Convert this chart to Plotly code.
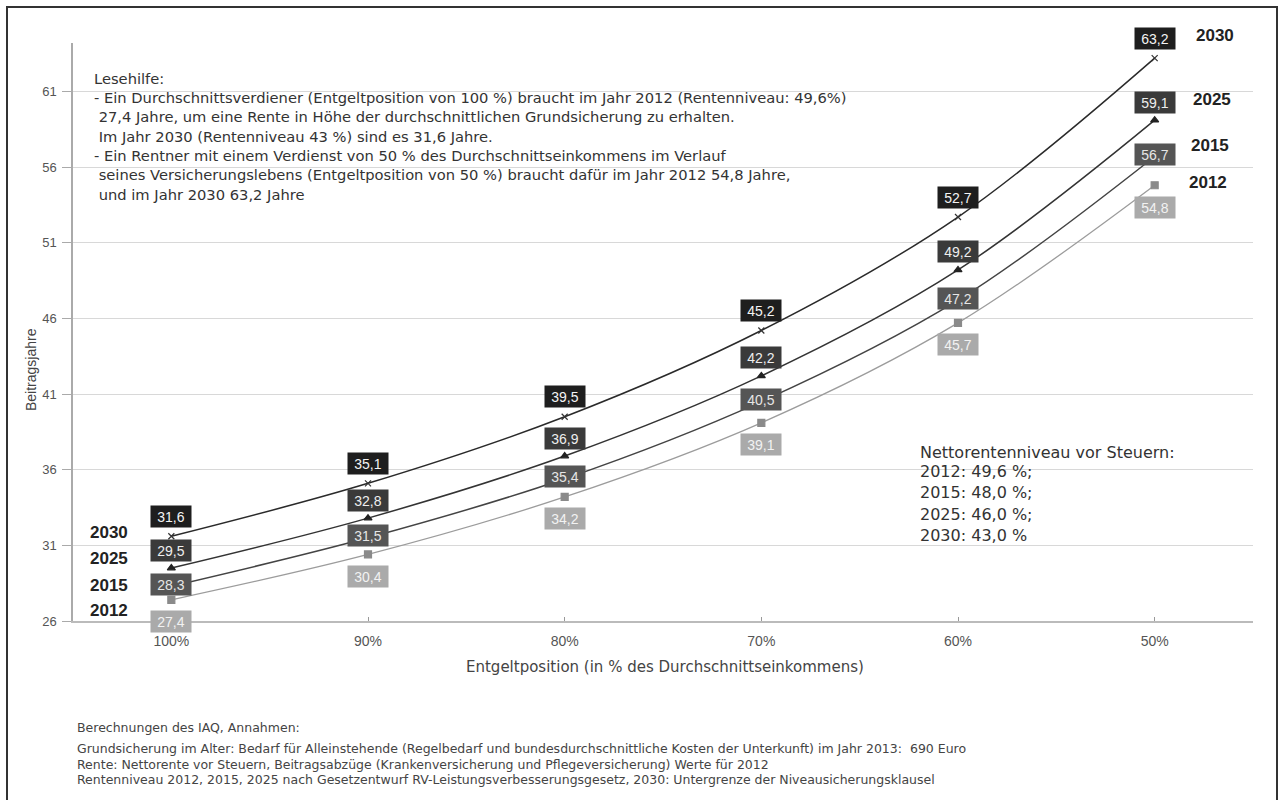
import plotly.graph_objects as go

# ---------------- data ----------------
categories = ["100%", "90%", "80%", "70%", "60%", "50%"]
years = ["2012", "2015", "2025", "2030"]
v2012 = [27.4, 30.4, 34.2, 39.1, 45.7, 54.8]
v2015 = [28.3, 31.5, 35.4, 40.5, 47.2, 56.7]
v2025 = [29.5, 32.8, 36.9, 42.2, 49.2, 59.1]
v2030 = [31.6, 35.1, 39.5, 45.2, 52.7, 63.2]
y_ticks = [26, 31, 36, 41, 46, 51, 56, 61]

lesehilfe_lines = [
    "Lesehilfe:",
    "- Ein Durchschnittsverdiener (Entgeltposition von 100 %) braucht im Jahr 2012 (Rentenniveau: 49,6%)",
    "  27,4 Jahre, um eine Rente in Höhe der durchschnittlichen Grundsicherung zu erhalten.",
    "  Im Jahr 2030 (Rentenniveau 43 %) sind es 31,6 Jahre.",
    "- Ein Rentner mit einem Verdienst von 50 % des Durchschnittseinkommens im Verlauf",
    "  seines Versicherungslebens (Entgeltposition von 50 %) braucht dafür im Jahr 2012 54,8 Jahre,",
    "  und im Jahr 2030 63,2 Jahre",
]
niveau_lines = [
    "Nettorentenniveau vor Steuern:",
    "2012: 49,6 %;",
    "2015: 48,0 %;",
    "2025: 46,0 %;",
    "2030: 43,0 %",
]
footer_lines = [
    "Berechnungen des IAQ, Annahmen:",
    "Grundsicherung im Alter: Bedarf für Alleinstehende (Regelbedarf und bundesdurchschnittliche Kosten der Unterkunft) im Jahr 2013:  690 Euro",
    "Rente: Nettorente vor Steuern, Beitragsabzüge (Krankenversicherung und Pflegeversicherung) Werte für 2012",
    "Rentenniveau 2012, 2015, 2025 nach Gesetzentwurf RV-Leistungsverbesserungsgesetz, 2030: Untergrenze der Niveausicherungsklausel",
]
x_title = "Entgeltposition (in % des Durchschnittseinkommens)"
y_title = "Beitragsjahre"

# ---------------- layout geometry ----------------
W, H = 1282, 800
ML, MR, MT, MB = 73, 29, 43, 179
PW, PH = W - ML - MR, H - MT - MB


def px(x):
    return (x - ML) / PW


def py(y):
    return (H - MB - y) / PH


FONT = "Liberation Sans, Arial, sans-serif"
WIDE = "DejaVu Sans, Verdana, sans-serif"

series = {
    "2012": dict(vals=v2012, line="#9c9c9c", width=1.3, marker="square", msize=7, mcolor="#8a8a8a",
                 box="#aaaaaa", txt="#f2f2f2", shift=-22, rshift=(53, 3), lshift=(-62, -11)),
    "2015": dict(vals=v2015, line="#444444", width=1.5, marker="diamond", msize=6, mcolor="#444444",
                 box="#555555", txt="#e6e6e6", shift=2, rshift=(55, 11), lshift=(-62, 1)),
    "2025": dict(vals=v2025, line="#333333", width=1.5, marker="triangle-up", msize=7, mcolor="#222222",
                 box="#3a3a3a", txt="#eeeeee", shift=18, rshift=(57, 21), lshift=(-62, 10)),
    "2030": dict(vals=v2030, line="#2a2a2a", width=1.5, marker="x-thin", msize=6, mcolor="#333333",
                 box="#1e1e1e", txt="#f4f4f4", shift=20, rshift=(60, 23), lshift=(-62, 4)),
}

fig = go.Figure()
annotations = []

for yr in years:
    s = series[yr]
    fig.add_trace(go.Scatter(
        x=categories, y=s["vals"], mode="lines+markers", name=yr,
        line=dict(color=s["line"], width=s["width"], shape="spline", smoothing=1.0),
        marker=dict(symbol=s["marker"], size=s["msize"], color=s["mcolor"],
                    line=dict(color=s["mcolor"], width=1.2)),
        showlegend=False, hoverinfo="x+y",
    ))
    for c, v in zip(categories, s["vals"]):
        annotations.append(dict(
            x=c, y=v, xref="x", yref="y", text=f"{v:.1f}".replace(".", ","),
            showarrow=False, yshift=s["shift"], bgcolor=s["box"],
            font=dict(family=FONT, size=14, color=s["txt"]),
            width=38, height=19, borderpad=1, align="center", valign="middle",
        ))
    # series name labels at the right and left
    annotations.append(dict(
        x=categories[-1], y=s["vals"][-1], xref="x", yref="y", text=f"<b>{yr}</b>",
        showarrow=False, xshift=s["rshift"][0], yshift=s["rshift"][1],
        font=dict(family=FONT, size=17, color="#222222"),
    ))
    annotations.append(dict(
        x=categories[0], y=s["vals"][0], xref="x", yref="y", text=f"<b>{yr}</b>",
        showarrow=False, xshift=s["lshift"][0], yshift=s["lshift"][1],
        font=dict(family=FONT, size=17, color="#222222"),
    ))

# Lesehilfe text block
les_y = [78, 97.5, 117, 136, 155.5, 175, 194]
for t, yy in zip(lesehilfe_lines, les_y):
    annotations.append(dict(
        x=px(92), y=py(yy), xref="paper", yref="paper", text=t.replace("  ", "&nbsp;"),
        showarrow=False, xanchor="left", yanchor="middle", align="left",
        font=dict(family=WIDE, size=14.7, color="#333333"),
    ))

# Nettorentenniveau block
niv_y = [452, 472, 493, 514, 535]
for t, yy in zip(niveau_lines, niv_y):
    annotations.append(dict(
        x=px(918), y=py(yy), xref="paper", yref="paper", text=t,
        showarrow=False, xanchor="left", yanchor="middle", align="left",
        font=dict(family=WIDE, size=16, color="#333333"),
    ))

# footer
foot_y = [727, 748, 764, 779]
for t, yy in zip(footer_lines, foot_y):
    annotations.append(dict(
        x=px(75), y=py(yy), xref="paper", yref="paper", text=t,
        showarrow=False, xanchor="left", yanchor="middle", align="left",
        font=dict(family=WIDE, size=12.5, color="#444444"),
    ))

# axis titles
annotations.append(dict(
    x=px(665), y=py(667), xref="paper", yref="paper", text=x_title, showarrow=False,
    xanchor="center", yanchor="middle", font=dict(family=WIDE, size=15, color="#444444"),
))
annotations.append(dict(
    x=px(31), y=py(370), xref="paper", yref="paper", text=y_title, showarrow=False,
    textangle=-90, xanchor="center", yanchor="middle",
    font=dict(family=FONT, size=14, color="#444444"),
))

shapes = [
    # white background behind Lesehilfe
    dict(type="rect", xref="paper", yref="paper", x0=px(85), x1=px(862), y0=py(68), y1=py(205),
         fillcolor="white", line=dict(width=0), layer="between"),
    # white background behind Nettorentenniveau
    dict(type="rect", xref="paper", yref="paper", x0=px(912), x1=px(1192), y0=py(440), y1=py(548),
         fillcolor="white", line=dict(width=0), layer="between"),
    # outer frame
    dict(type="rect", xref="paper", yref="paper", x0=px(7), x1=px(1277), y0=py(7), y1=py(810),
         fillcolor="rgba(0,0,0,0)", line=dict(color="#333333", width=2), layer="above"),
]

fig.update_layout(
    width=W, height=H,
    margin=dict(l=ML, r=MR, t=MT, b=MB, pad=0),
    paper_bgcolor="white", plot_bgcolor="white",
    font=dict(family=FONT, color="#444444"),
    showlegend=False,
    annotations=annotations,
    shapes=shapes,
    xaxis=dict(
        type="category", range=[-0.5, 5.5], showgrid=False, zeroline=False,
        showline=True, linecolor="#bbbbbb", linewidth=1.5,
        ticks="inside", ticklen=4, tickcolor="#999999", ticklabelstandoff=6,
        tickfont=dict(family=FONT, size=14, color="#555555"),
    ),
    yaxis=dict(
        range=[26, 64.2], tickvals=y_ticks, ticktext=[str(t) for t in y_ticks],
        showgrid=True, gridcolor="#d8d8d8", gridwidth=1, zeroline=False,
        showline=True, linecolor="#aaaaaa", linewidth=1.5,
        ticks="outside", ticklen=9, tickcolor="#aaaaaa", ticklabelstandoff=3,
        tickfont=dict(family=FONT, size=13, color="#555555"),
    ),
)

fig.write_html("out.html")
